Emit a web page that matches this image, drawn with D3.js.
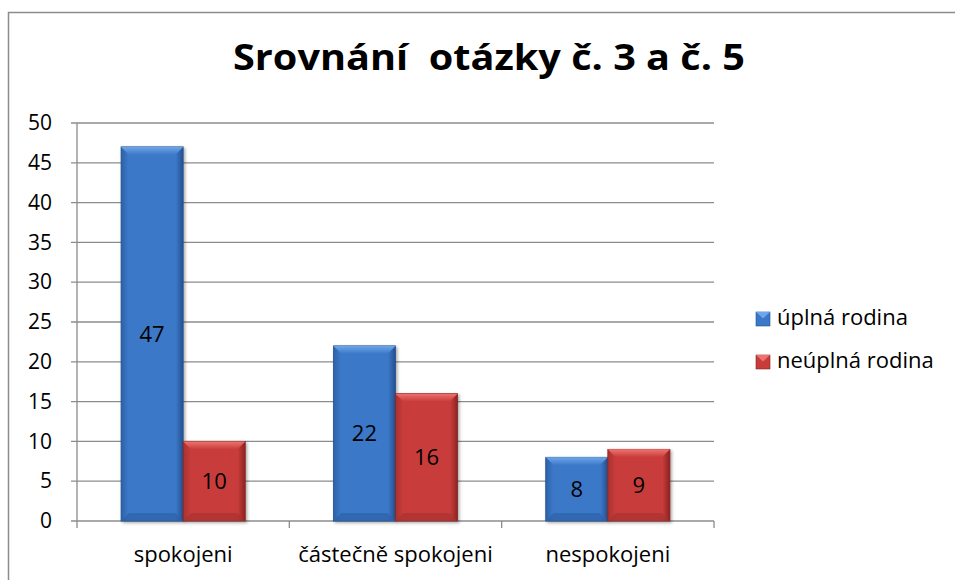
<!DOCTYPE html>
<html>
<head>
<meta charset="utf-8">
<script src="https://cdn.jsdelivr.net/npm/d3@7"></script>
<style>
  body { margin: 0; background: #fff; }
  svg { font-family: "Open Sans", "Noto Sans", sans-serif; }
</style>
</head>
<body>
<svg id="chart" width="955" height="580"></svg>
<script>
// chart data
const categories = ["spokojeni", "částečně spokojeni", "nespokojeni"];
const seriesNames = ["úplná rodina", "neúplná rodina"];
const uplna = [47, 22, 8];
const neuplna = [10, 16, 9];
const yTicks = [0, 5, 10, 15, 20, 25, 30, 35, 40, 45, 50];
const title = "Srovnání  otázky č. 3 a č. 5";

const values = [uplna, neuplna];
const colors = [
  {base: "#3b78c8", light: "#6ea6ea", dark: "#24508e", side: "#2d61a8"},
  {base: "#c83c3a", light: "#ee7370", dark: "#8a2322", side: "#a83230"}
];

const svg = d3.select("#chart");
const pLeft = 77, pRight = 714, pTop = 123, pBottom = 521;

// outer frame
svg.append("rect")
    .attr("x", 8.5).attr("y", 12.5)
    .attr("width", 960).attr("height", 600)
    .attr("fill", "none")
    .attr("stroke", "#8c8c8c")
    .attr("stroke-width", 1.5);

svg.append("text")
    .attr("x", 489).attr("y", 70)
    .attr("text-anchor", "middle")
    .style("font-size", "35px")
    .style("font-weight", "bold")
    .style("white-space", "pre")
    .attr("xml:space", "preserve")
    .attr("textLength", 512)
    .attr("lengthAdjust", "spacingAndGlyphs")
    .text(title);

var y = d3.scaleLinear().domain([0, 50]).range([pBottom, pTop]);
var x0 = d3.scaleBand().domain(categories).range([pLeft, pRight]);
var x1 = d3.scaleBand().domain(seriesNames)
    .range([0, x0.bandwidth()])
    .paddingOuter(0.71);

// gridlines
svg.append("g")
    .selectAll("line")
    .data(yTicks)
    .enter()
    .append("line")
    .attr("x1", pLeft - 6).attr("x2", pRight)
    .attr("y1", d => y(d)).attr("y2", d => y(d))
    .attr("stroke", "#8c8c8c")
    .attr("stroke-width", 1.3);

// y axis
var yAxis = d3.axisLeft(y).tickValues(yTicks).tickSize(0).tickPadding(25);
var gY = svg.append("g").attr("transform", "translate(" + pLeft + ",0)").call(yAxis);
gY.select(".domain").remove();
gY.selectAll("text").style("font-size", "21px").attr("fill", "#000")
    .style("font-family", "'Open Sans', sans-serif");

// vertical axis line
svg.append("line")
    .attr("x1", pLeft).attr("x2", pLeft)
    .attr("y1", pTop).attr("y2", pBottom + 7)
    .attr("stroke", "#8c8c8c").attr("stroke-width", 1.3);

// x axis category ticks at band edges
svg.append("g")
    .selectAll("line")
    .data(categories.slice(1).concat(["__end"]))
    .enter()
    .append("line")
    .attr("x1", (d, i) => i < 2 ? x0(d) : pRight)
    .attr("x2", (d, i) => i < 2 ? x0(d) : pRight)
    .attr("y1", pBottom).attr("y2", pBottom + 7)
    .attr("stroke", "#8c8c8c").attr("stroke-width", 1.3);

svg.append("g")
    .selectAll("text")
    .data(categories)
    .enter()
    .append("text")
    .attr("x", d => x0(d) + x0.bandwidth() / 2)
    .attr("y", 562)
    .attr("text-anchor", "middle")
    .style("font-size", "22px")
    .text(d => d);

// gradients
var defs = svg.append("defs");
colors.forEach(function(c, i) {
  var g = defs.append("linearGradient").attr("id", "grad" + i)
      .attr("x1", 0).attr("x2", 1).attr("y1", 0).attr("y2", 0);
  g.append("stop").attr("offset", "0%").attr("stop-color", c.side);
  g.append("stop").attr("offset", "12%").attr("stop-color", c.base);
  g.append("stop").attr("offset", "88%").attr("stop-color", c.base);
  g.append("stop").attr("offset", "100%").attr("stop-color", c.dark);
  var t = defs.append("linearGradient").attr("id", "top" + i)
      .attr("x1", 0).attr("x2", 0).attr("y1", 0).attr("y2", 1);
  t.append("stop").attr("offset", "0%").attr("stop-color", c.light);
  t.append("stop").attr("offset", "100%").attr("stop-color", c.base);
});
var shadow = defs.append("filter").attr("id", "shadow")
    .attr("x", "-20%").attr("y", "-20%").attr("width", "140%").attr("height", "140%");
shadow.append("feDropShadow").attr("dx", 1.5).attr("dy", 1.5)
    .attr("stdDeviation", 1.5).attr("flood-color", "#000").attr("flood-opacity", 0.35);

// bars
const bev = 8;
categories.forEach(function(cat, ci) {
  seriesNames.forEach(function(s, si) {
    var v = values[si][ci];
    var bx = x0(cat) + x1(s), bw = x1.bandwidth();
    var by = y(v), bh = pBottom - by;
    var c = colors[si];
    var g = svg.append("g").attr("class", "bar");
    g.append("rect")
        .attr("x", bx).attr("y", by).attr("width", bw).attr("height", bh)
        .attr("fill", "url(#grad" + si + ")")
        .attr("stroke", c.dark).attr("stroke-width", 0.8)
        .attr("filter", "url(#shadow)");
    // top bevel
    g.append("path")
        .attr("d", "M" + bx + "," + by + "L" + (bx + bw) + "," + by +
             "L" + (bx + bw - bev) + "," + (by + bev) + "L" + (bx + bev) + "," + (by + bev) + "Z")
        .attr("fill", "url(#top" + si + ")");
    // bottom bevel
    g.append("path")
        .attr("d", "M" + bx + "," + pBottom + "L" + (bx + bw) + "," + pBottom +
             "L" + (bx + bw - bev) + "," + (pBottom - bev) + "L" + (bx + bev) + "," + (pBottom - bev) + "Z")
        .attr("fill", c.side).attr("opacity", 0.7);
    g.append("text")
        .attr("x", bx + bw / 2)
        .attr("y", by + bh / 2 + 8)
        .attr("text-anchor", "middle")
        .style("font-size", "22px")
        .text(v);
  });
});

// legend
var legend = svg.append("g").selectAll("g")
    .data(seriesNames)
    .enter()
    .append("g")
    .attr("transform", (d, i) => "translate(756," + (312 + i * 43) + ")");
legend.append("rect")
    .attr("width", 14).attr("height", 14)
    .attr("fill", (d, i) => colors[i].base)
    .attr("stroke", (d, i) => colors[i].dark).attr("stroke-width", 0.6);
legend.append("path")
    .attr("d", "M0,0L14,0L7,6.5Z")
    .attr("fill", (d, i) => colors[i].light);
legend.append("text")
    .attr("x", 21).attr("y", 13)
    .style("font-size", "22px")
    .text(d => d);
</script>
</body>
</html>
